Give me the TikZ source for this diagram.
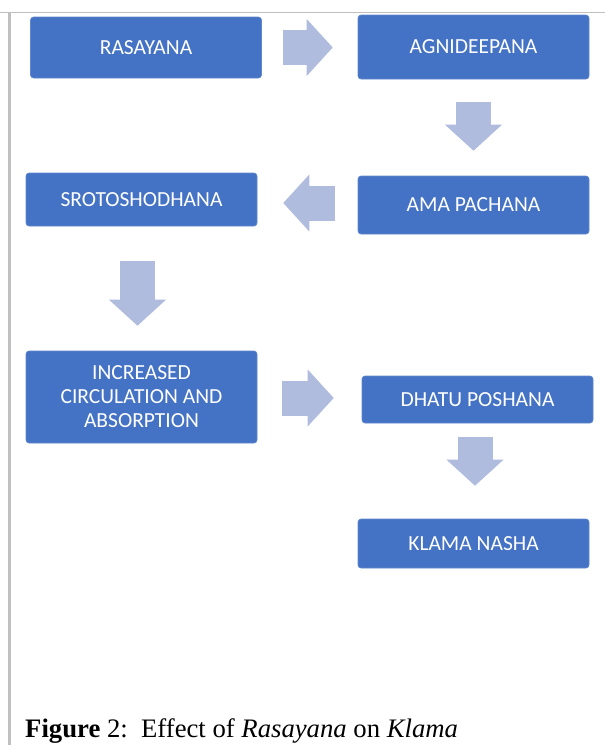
\documentclass[tikz,border=0pt]{standalone}
\usepackage{fontspec}
\setmainfont{Liberation Serif}
\newfontfamily\boxfont{Carlito}
\usetikzlibrary{arrows.meta}
\definecolor{boxblue}{RGB}{68,114,196}
\definecolor{arrowfill}{RGB}{176,188,222}
\definecolor{framegray}{RGB}{191,191,191}
\tikzset{
  stage/.style={rectangle, rounded corners=3pt, fill=boxblue, draw=boxblue!85!white,
    line width=0.6pt, text=white, font=\boxfont\fontsize{21.5}{24}\selectfont,
    align=center, minimum width=231pt, inner sep=0pt},
  flow/.style={draw=arrowfill, line width=35pt,
    -{Triangle[width=57pt,length=26pt,line width=0pt,fill=arrowfill]}},
  frame/.style={draw=framegray}
}

\begin{document}
\begin{tikzpicture}[x=1pt,y=-1pt]
    \useasboundingbox (0,0) rectangle (605,745);
    \draw[frame, line width=1.5pt] (0,12.5) -- (605,12.5);
    \draw[frame, line width=2.3pt] (9.5,12.5) -- (9.5,745);
    % stages
    \node[stage, minimum height=61pt] (rasayana) at (146,47.5) {RASAYANA};
    \node[stage, minimum height=64pt] (agni) at (473.5,47) {AGNIDEEPANA};
    \node[stage, minimum height=58pt] (ama) at (473.5,205) {AMA PACHANA};
    \node[stage, minimum height=53pt] (sroto) at (141.5,199.5) {SROTOSHODHANA};
    \node[stage, minimum height=92pt] (circ) at (141.5,397) {INCREASED\\CIRCULATION AND\\ABSORPTION};
    \node[stage, minimum height=47pt] (dhatu) at (477.5,399.5) {DHATU POSHANA};
    \node[stage, minimum height=49pt] (klama) at (473.5,543.5) {KLAMA NASHA};
    % block arrows
    \draw[flow, shorten <=21pt, shorten >=25pt] (rasayana.east) -- (rasayana.east -| agni.west);
    \draw[flow, shorten <=23pt, shorten >=25pt] (agni.south) -- (agni.south |- ama.north);
    \draw[flow, shorten <=23pt, shorten >=26pt] ([yshift=2pt]ama.west) -- ([yshift=2pt]ama.west -| sroto.east);
    \draw[flow, shorten <=35pt, shorten >=25pt] ([xshift=-4pt]sroto.south) -- ([xshift=-4pt]sroto.south |- circ.north);
    \draw[flow, shorten <=25pt, shorten >=28pt] ([yshift=-1pt]circ.east) -- ([yshift=-1pt]circ.east -| dhatu.west);
    \draw[flow, shorten <=14pt, shorten >=33pt] ([xshift=-2.5pt]dhatu.south) -- ([xshift=-2.5pt]dhatu.south |- klama.north);
    %caption
    \node[anchor=base west, inner sep=0pt, font=\fontsize{26.7}{30}\selectfont] (caption) at (25,737)
        {\textbf{Figure} 2:\ \ Effect of \textit{Rasayana} on \textit{Klama}};
\end{tikzpicture}
\end{document}
